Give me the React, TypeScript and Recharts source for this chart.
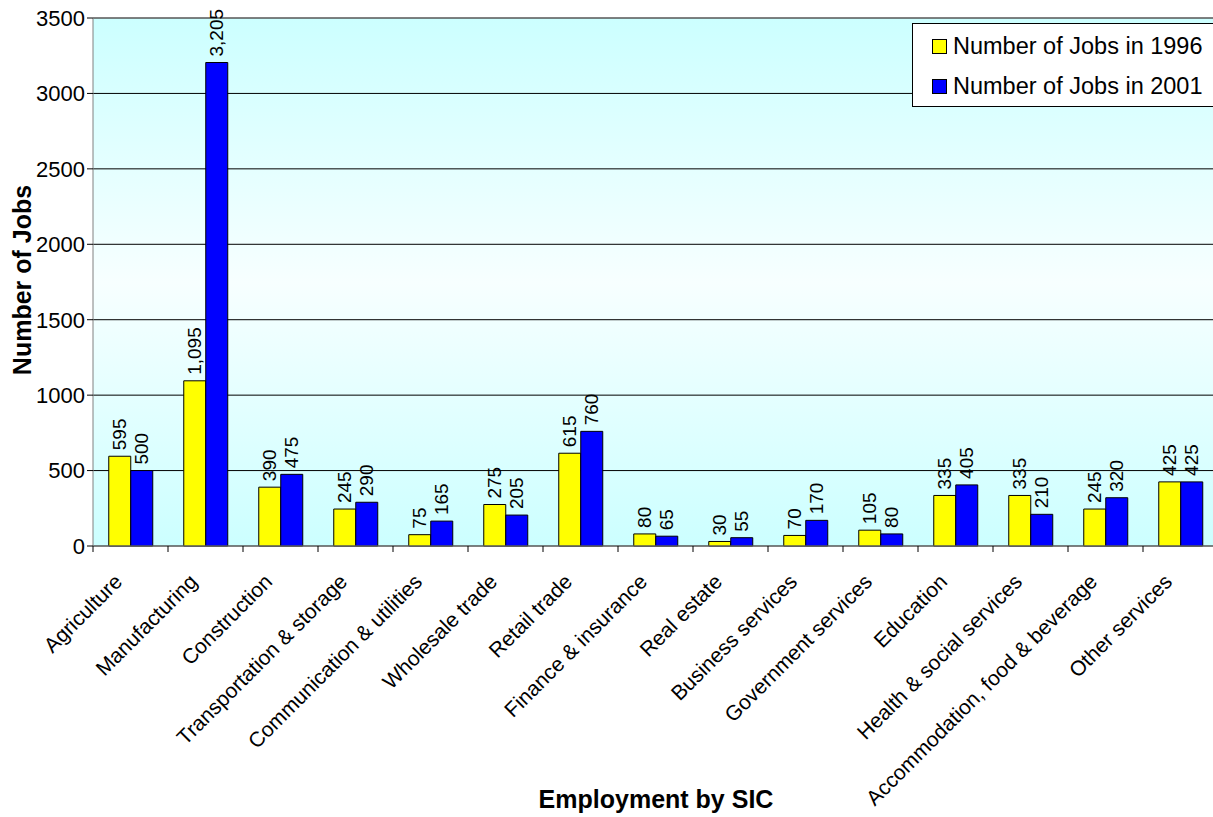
import React from "react";
import {
  BarChart,
  Bar,
  XAxis,
  YAxis,
  CartesianGrid,
  LabelList,
  ReferenceLine,
  Label,
} from "recharts";

const categories = [
  "Agriculture",
  "Manufacturing",
  "Construction",
  "Transportation & storage",
  "Communication & utilities",
  "Wholesale trade",
  "Retail trade",
  "Finance & insurance",
  "Real estate",
  "Business services",
  "Government services",
  "Education",
  "Health & social services",
  "Accommodation, food & beverage",
  "Other services",
];
const jobs1996 = [595, 1095, 390, 245, 75, 275, 615, 80, 30, 70, 105, 335, 335, 245, 425];
const jobs2001 = [500, 3205, 475, 290, 165, 205, 760, 65, 55, 170, 80, 405, 210, 320, 425];
const yTicks = [0, 500, 1000, 1500, 2000, 2500, 3000, 3500];

const data = categories.map((category, i) => ({
  category,
  y1996: jobs1996[i],
  y2001: jobs2001[i],
}));

const FONT = "'Liberation Sans', Arial, Helvetica, sans-serif";
const CHART_W = 1230;
const CHART_H = 817;
const Y_AXIS_W = 93;
const MARGIN = { top: 18, right: 12, left: 0, bottom: 0 };
const BAND = (CHART_W - MARGIN.left - MARGIN.right - Y_AXIS_W) / categories.length;

const series = [
  { key: "y1996", name: "Number of Jobs in 1996", color: "#ffff00" },
  { key: "y2001", name: "Number of Jobs in 2001", color: "#0000ff" },
];

// category label rotated 45°, with the tick mark on the left band edge
const CategoryTick = ({ x, y, payload }: any) => {
  const bx = x - BAND / 2;
  const tx = x - 7;
  const ty = y + 37;
  return (
    <g>
      <line x1={bx} y1={y} x2={bx} y2={y + 6} stroke="#000" />
      <text
        x={tx}
        y={ty}
        transform={`rotate(-45 ${tx} ${ty})`}
        textAnchor="end"
        fontSize={21}
        fontFamily={FONT}
        fill="#000"
      >
        {payload.value}
      </text>
    </g>
  );
};

const ValueLabel = ({ x, y, width, value }: any) => {
  const cx = x + width / 2;
  const ty = y - 6;
  return (
    <text
      x={cx}
      y={ty}
      transform={`rotate(-90 ${cx} ${ty})`}
      textAnchor="start"
      dominantBaseline="central"
      fontSize={19}
      fontFamily={FONT}
      fill="#000"
    >
      {Number(value).toLocaleString("en-US")}
    </text>
  );
};

const LegendBox = () => (
  <div
    style={{
      position: "absolute",
      left: 912,
      top: 23,
      width: 320,
      height: 84,
      boxSizing: "border-box",
      border: "1px solid #000",
      background: "#fff",
      fontFamily: FONT,
      fontSize: 23.5,
      color: "#000",
    }}
  >
    {series.map((s, i) => (
      <div
        key={s.key}
        style={{
          position: "absolute",
          left: 19,
          top: i === 0 ? 8 : 48,
          display: "flex",
          alignItems: "center",
          height: 28,
          whiteSpace: "nowrap",
        }}
      >
        <span
          style={{
            width: 15,
            height: 15,
            boxSizing: "border-box",
            border: "1px solid #000",
            background: s.color,
            marginRight: 6,
          }}
        />
        <span>{s.name}</span>
      </div>
    ))}
  </div>
);

export default function App() {
  return (
    <div
      style={{
        position: "absolute",
        left: 0,
        top: 0,
        width: 1213,
        height: 817,
        overflow: "hidden",
        background: "#fff",
      }}
    >
      <BarChart
        width={CHART_W}
        height={CHART_H}
        data={data}
        margin={MARGIN}
        barCategoryGap="21%"
        barGap={0}
      >
        <defs>
          <linearGradient id="plotBg" x1="0" y1="0" x2="0" y2="1">
            <stop offset="0%" stopColor="#ccffff" />
            <stop offset="50%" stopColor="#f7ffff" />
            <stop offset="100%" stopColor="#ccffff" />
          </linearGradient>
        </defs>
        <CartesianGrid
          vertical={false}
          stroke="#000"
          fill="url(#plotBg)"
          fillOpacity={1}
        />
        <XAxis
          dataKey="category"
          interval={0}
          height={271}
          tickSize={0}
          tickMargin={0}
          tickLine={false}
          axisLine={{ stroke: "#808080" }}
          tick={<CategoryTick />}
        >
          <Label
            content={() => (
              <text
                x={656}
                y={808}
                textAnchor="middle"
                fontSize={25}
                fontWeight="bold"
                fontFamily={FONT}
                fill="#000"
              >
                Employment by SIC
              </text>
            )}
          />
        </XAxis>
        <YAxis
          width={Y_AXIS_W}
          domain={[0, 3500]}
          ticks={yTicks}
          interval={0}
          tickSize={6}
          axisLine={{ stroke: "#808080" }}
          tickLine={{ stroke: "#000" }}
          tick={{ fill: "#000", fontSize: 22, fontFamily: FONT }}
        >
          <Label
            content={() => (
              <text
                x={22}
                y={280}
                transform="rotate(-90 22 280)"
                textAnchor="middle"
                dominantBaseline="central"
                fontSize={25}
                fontWeight="bold"
                fontFamily={FONT}
                fill="#000"
              >
                Number of Jobs
              </text>
            )}
          />
        </YAxis>
        <ReferenceLine y={3500} stroke="#808080" />
        {series.map((s) => (
          <Bar
            key={s.key}
            dataKey={s.key}
            name={s.name}
            fill={s.color}
            stroke="#000"
            strokeWidth={1}
            isAnimationActive={false}
          >
            <LabelList dataKey={s.key} content={<ValueLabel />} />
          </Bar>
        ))}
      </BarChart>
      <LegendBox />
    </div>
  );
}
